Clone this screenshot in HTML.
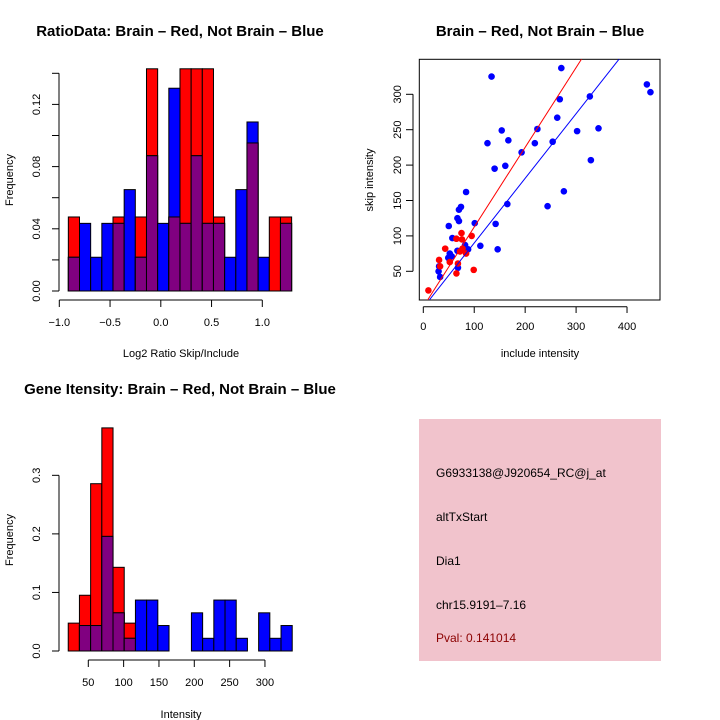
<!DOCTYPE html>
<html><head><meta charset="utf-8"><style>
body{margin:0;background:#fff}
svg{display:block;font-family:"Liberation Sans",sans-serif}
</style></head><body>
<svg id="s" width="720" height="720" viewBox="0 0 720 720"></svg>
<script>
// Ratio histogram data
const ratioBinStart = -0.911, ratioBinWidth = 0.11;
const ratioRed  = [0.0476,0,0,0,0.0476,0,0.0476,0.1429,0,0.0476,0.1429,0.1429,0.1429,0.0476,0,0,0.0952,0,0.0476,0.0476];
const ratioBlue = [0.0217,0.0435,0.0217,0.0435,0.0435,0.0652,0.0217,0.087,0.0435,0.1304,0.0435,0.087,0.0435,0.0435,0.0217,0.0652,0.1087,0.0217,0,0.0435];
const ratioYTicks = [0,0.02,0.04,0.06,0.08,0.10,0.12,0.14];
const ratioYLabels = ["0.00","","0.04","","0.08","","0.12",""];
const ratioXTicks = [-1.0,-0.5,0.0,0.5,1.0];
const ratioXLabels = ["−1.0","−0.5","0.0","0.5","1.0"];
// Scatter data
const blueX = [134,271,439,446,327,268,263,224,154,167,302,344,254,219,126,193,329,161,140,276,84,165,244,74,70,67,70,50,101,142,57,112,146,82,88,78,67,52,49,68,31,30,33,56];
const blueY = [325,337,314,303,297,293,267,251,249,235,248,252,233,231,231,218,207,199,195,163,162,145,142,141,137,125,121,114,118,117,97,86,81,87,81,80,79,75,69,55,57,50,42,71];
const redX = [10,31,43,65,75,76,95,99,65,68,52,84,72,77,33];
const redY = [23,66,82,96,104,95,100,52,47,61,63,75,78,82,57];
const redFit = [-0.07,1.126];
const blueFit = [-1.3,0.913];
const scXTicks = [0,100,200,300,400];
const scYTicks = [50,100,150,200,250,300];
// Intensity histogram data
const intBinStart = 21.6, intBinWidth = 15.85;
const intRed  = [0.0476,0.0952,0.2857,0.381,0.1429,0.0476,0,0,0,0,0,0,0,0,0,0,0,0,0,0];
const intBlue = [0,0.0435,0.0435,0.1957,0.0652,0.0217,0.087,0.087,0.0435,0,0,0.0652,0.0217,0.087,0.087,0.0217,0,0.0652,0.0217,0.0435];
const intYTicks = [0,0.1,0.2,0.3];
const intYLabels = ["0.0","0.1","0.2","0.3"];
const intXTicks = [50,100,150,200,250,300];

const svg=document.getElementById('s');
const NS='http://www.w3.org/2000/svg';
function mk(tag,attrs,name,parent){const e=document.createElementNS(NS,tag);for(const k in attrs)e.setAttribute(k,attrs[k]);


(parent||svg).appendChild(e);return e;}
function txt(x,y,s,name,opt){opt=opt||{};const t=mk('text',{x:x,y:y,'font-size':opt.size||11,'text-anchor':opt.anchor||'middle','font-weight':opt.bold?'bold':'normal',fill:opt.fill||'#000'},name);
if(opt.rot)t.setAttribute('transform','rotate(-90 '+x+' '+y+')');t.textContent=s;return t;}
function line(x1,y1,x2,y2,name,c,w){return mk('line',{x1:x1,y1:y1,x2:x2,y2:y2,stroke:c||'#000','stroke-width':w||1},name);}

function hist(o){
  const X=v=>o.x0+(v-o.xv0)*o.xs, Y=v=>o.y0-v*o.ys;
  const g=mk('g',{},o.name);
  for(let i=0;i<o.red.length;i++){
    const a=o.binStart+i*o.binW, b=a+o.binW;
    const r=o.red[i], bl=o.blue[i];
    if(r>0) mk('rect',{x:X(a),y:Y(r),width:X(b)-X(a),height:Y(0)-Y(r),fill:'#ff0000',stroke:'#000','stroke-width':1},'red-bar',g);
    if(bl>0) mk('rect',{x:X(a),y:Y(bl),width:X(b)-X(a),height:Y(0)-Y(bl),fill:'#0000ff',stroke:'#000','stroke-width':1},'blue-bar',g);
    if(r>0&&bl>0){const m=Math.min(r,bl);mk('rect',{x:X(a),y:Y(m),width:X(b)-X(a),height:Y(0)-Y(m),fill:'#800080',stroke:'#000','stroke-width':1},'overlap-bar',g);}
  }
  const yt=o.yTicks;
  line(o.yAxisX,Y(yt[0]),o.yAxisX,Y(yt[yt.length-1]),'y-axis-line');
  yt.forEach((v,i)=>{line(o.yAxisX-7,Y(v),o.yAxisX,Y(v),'y-tick');if(o.yLabels[i])txt(o.yAxisX-19,Y(v),o.yLabels[i],'y-tick-label',{rot:1});});
  const xt=o.xTicks;
  line(X(xt[0]),o.xAxisY,X(xt[xt.length-1]),o.xAxisY,'x-axis-line');
  xt.forEach((v,i)=>{line(X(v),o.xAxisY,X(v),o.xAxisY+7,'x-tick');txt(X(v),o.xAxisY+26,o.xLabels[i],'x-tick-label');});
}
hist({name:'ratio-histogram',red:ratioRed,blue:ratioBlue,binStart:ratioBinStart,binW:ratioBinWidth,x0:59.3,xv0:-1,xs:101.5,y0:291,ys:1555,
  yAxisX:59,yTicks:ratioYTicks,yLabels:ratioYLabels,xTicks:ratioXTicks,xLabels:ratioXLabels,xAxisY:300});
txt(180,36,'RatioData: Brain – Red, Not Brain – Blue','ratio-title',{size:15,bold:1});
txt(181,357,'Log2 Ratio Skip/Include','ratio-x-title');
txt(13,180,'Frequency','ratio-y-title',{rot:1});

hist({name:'intensity-histogram',red:intRed,blue:intBlue,binStart:intBinStart,binW:intBinWidth,x0:88.3,xv0:50,xs:0.7066,y0:651,ys:585.6,
  yAxisX:59,yTicks:intYTicks,yLabels:intYLabels,xTicks:intXTicks,xLabels:intXTicks.map(String),xAxisY:660});
txt(180,394,'Gene Itensity: Brain – Red, Not Brain – Blue','intensity-title',{size:15,bold:1});
txt(181,718,'Intensity','intensity-x-title');
txt(13,540,'Frequency','intensity-y-title',{rot:1});

// scatter
(function(){
  const L=419.3,R=660,T=59.3,B=300;
  const X=v=>423.3+v*0.5093, Y=v=>271.3-(v-50)*0.708;
  const cp=mk('clipPath',{id:'cp'},'plot-clip');mk('rect',{x:L,y:T,width:R-L,height:B-T},'clip-rect',cp);
  mk('rect',{x:L,y:T,width:R-L,height:B-T,fill:'none',stroke:'#000'},'scatter-box');
  const g=mk('g',{'clip-path':'url(#cp)'},'scatter-points');
  blueX.forEach((v,i)=>mk('circle',{cx:X(v),cy:Y(blueY[i]),r:3.3,fill:'#0000ff'},'blue-point',g));
  redX.forEach((v,i)=>mk('circle',{cx:X(v),cy:Y(redY[i]),r:3.3,fill:'#ff0000'},'red-point',g));
  const xa=-20,xb=480;
  mk('line',{x1:X(xa),y1:Y(redFit[0]+redFit[1]*xa),x2:X(xb),y2:Y(redFit[0]+redFit[1]*xb),stroke:'#ff0000','stroke-width':1},'red-fit-line',g);
  mk('line',{x1:X(xa),y1:Y(blueFit[0]+blueFit[1]*xa),x2:X(xb),y2:Y(blueFit[0]+blueFit[1]*xb),stroke:'#0000ff','stroke-width':1},'blue-fit-line',g);
  line(X(scXTicks[0]),306.7,X(scXTicks[scXTicks.length-1]),306.7,'scatter-x-axis');
  scXTicks.forEach(v=>{line(X(v),306.7,X(v),313,'x-tick');txt(X(v),330,String(v),'x-tick-label');});
  line(413,Y(scYTicks[0]),413,Y(scYTicks[scYTicks.length-1]),'scatter-y-axis');
  scYTicks.forEach(v=>{line(406,Y(v),413,Y(v),'y-tick');txt(401,Y(v),String(v),'y-tick-label',{rot:1});});
  txt(540,36,'Brain – Red, Not Brain – Blue','scatter-title',{size:15,bold:1});
  txt(540,357,'include intensity','scatter-x-title');
  txt(373,180,'skip intensity','scatter-y-title',{rot:1});
})();

// info panel
mk('rect',{x:419,y:419,width:242,height:242,fill:'#f1c3cc'},'info-panel');
txt(436,477,'G6933138@J920654_RC@j_at','probe-id',{anchor:'start',size:12});
txt(436,521,'altTxStart','event-type',{anchor:'start',size:12});
txt(436,565,'Dia1','gene-name',{anchor:'start',size:12});
txt(436,609,'chr15.9191–7.16','location',{anchor:'start',size:12});
txt(436,642,'Pval: 0.141014','p-value',{anchor:'start',size:12,fill:'#8b0000'});
</script>
</body></html>
